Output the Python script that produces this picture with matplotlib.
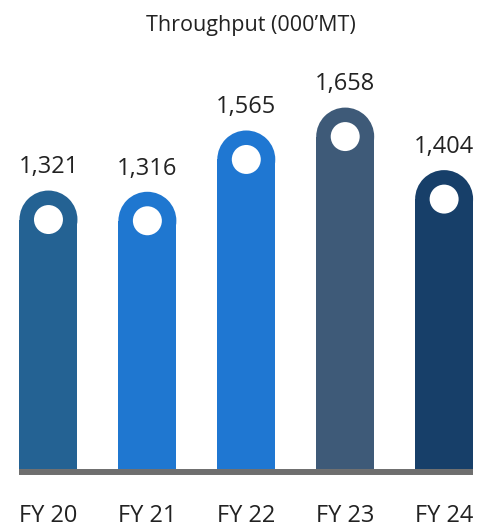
import matplotlib
matplotlib.use("Agg")
import matplotlib.pyplot as plt
from matplotlib.patches import Rectangle, Ellipse

plt.rcParams['font.family'] = ['Open Sans', 'DejaVu Sans']

years = ['FY 20', 'FY 21', 'FY 22', 'FY 23', 'FY 24']
throughput = [1321, 1316, 1565, 1658, 1404]
labels = ['1,321', '1,316', '1,565', '1,658', '1,404']
colors = ['#246293', '#1f77d0', '#1f77d2', '#3e5a78', '#173f69']

W, H, DPI = 491, 529, 100
fig = plt.figure(figsize=(W / DPI, H / DPI), dpi=DPI)
ax = fig.add_axes([0, 60 / H, 1, 469 / H])
ax.set_xlim(-0.49, 4.474)
ax.set_ylim(190, 2095)
ax.axis('off')

# pixels per data unit, to keep the caps round on screen
px_x = W / (4.474 + 0.49)
px_y = 469 / (2095 - 190)
bw = 0.586
ry = (bw / 2) * px_x / px_y
y0 = ax.get_ylim()[0]

for i, (v, c) in enumerate(zip(throughput, colors)):
    ax.add_patch(Rectangle((i - bw / 2, y0), bw, v - ry - y0, color=c, lw=0))
    ax.add_patch(Ellipse((i, v - ry), bw, 2 * ry, color=c, lw=0))
    ax.add_patch(Ellipse((i, v - ry), bw / 2, ry, color='white', lw=0))
    ax.annotate(labels[i], (i, v), xytext=(0, 8), textcoords='offset points',
                ha='center', va='bottom', fontsize=17, color='#222222')
    ax.annotate(years[i], (i, y0), xytext=(0, -38), textcoords='offset points',
                ha='center', va='baseline', fontsize=17, color='#222222',
                annotation_clip=False)

# grey base line under the bars
ax.hlines(y0 - 3 / px_y, -bw / 2, 4 + bw / 2, color='#6e6e6e', lw=4.3,
          clip_on=False)

fig.text(251 / W, 1 - 31 / H, 'Throughput (000\u2019MT)', ha='center',
         va='baseline', fontsize=15.5, color='#222222')

fig.savefig('out.png', dpi=DPI)
plt.close('all')
